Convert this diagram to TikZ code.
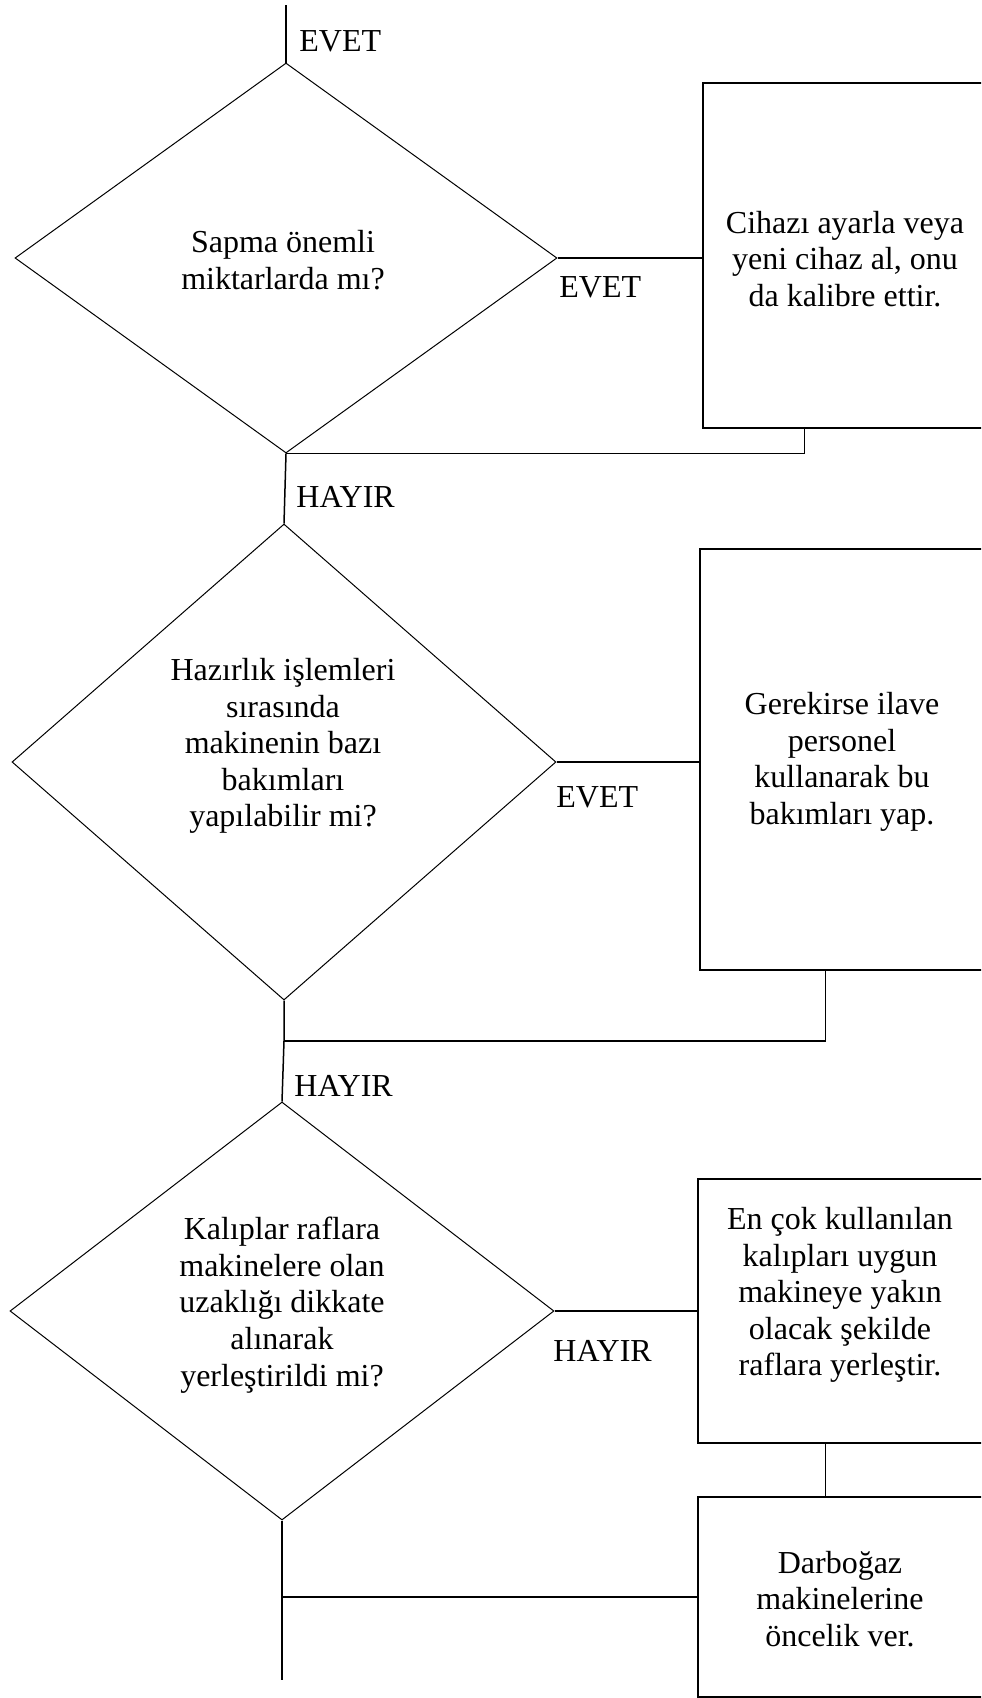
\documentclass[tikz,border=0pt]{standalone}
\usepackage{fontspec}
\setmainfont{Liberation Serif}
\usetikzlibrary{shapes.geometric,calc}
\begin{document}
\begin{tikzpicture}[x=0.5pt,y=-0.5pt,
  decision/.style={draw, diamond, line width=0.5pt, inner sep=0pt},
  stepbox/.style={draw, rectangle, line width=0.75pt, inner sep=0pt},
  txt/.style={align=center, font=\fontsize{16}{18.3}\selectfont, inner sep=0pt},
  lbl/.style={anchor=west, font=\fontsize{16}{18.3}\selectfont, inner sep=0pt},
  link/.style={line width=0.75pt}]

\useasboundingbox (0,0) rectangle (981,1698);
\clip (0,0) rectangle (981,1698);

% decisions
\node[decision, minimum width=271pt, minimum height=195pt] (d1) at (286,258) {};
\node[decision, minimum width=272pt, minimum height=238pt] (d2) at (284,762) {};
\node[decision, minimum width=272pt, minimum height=209pt] (d3) at (282,1311) {};

\node[txt] (d1t) at (283,260) {Sapma önemli\\miktarlarda mı?};
\node[txt] (d2t) at (283,746) {Hazırlık işlemleri\\sırasında\\makinenin bazı\\bakımları\\yapılabilir mi?};
\node[txt] (d3t) at (282,1305) {Kalıplar raflara\\makinelere olan\\uzaklığı dikkate\\alınarak\\yerleştirildi mi?};

% actions (their right sides run off the page)
\node[stepbox, minimum width=142.5pt, minimum height=172.5pt] (b1) at (845.5,255.5) {};
\node[stepbox, minimum width=142.5pt, minimum height=210.5pt] (b2) at (842.5,759.5) {};
\node[stepbox, minimum width=142.5pt, minimum height=132pt] (b3) at (840.5,1311) {};
\node[stepbox, minimum width=142.5pt, minimum height=100pt] (b4) at (840.5,1597) {};

\node[txt] (b1t) at (845,259) {Cihazı ayarla veya\\yeni cihaz al, onu\\da kalibre ettir.};
\node[txt] (b2t) at (842,762) {Gerekirse ilave\\personel\\kullanarak bu\\bakımları yap.};
\node[txt] (b3t) at (840,1295) {En çok kullanılan\\kalıpları uygun\\makineye yakın\\olacak şekilde\\raflara yerleştir.};
\node[txt] (b4t) at (840,1599) {Darboğaz\\makinelerine\\öncelik ver.};

% connectors
\coordinate (top) at (286,5);
\coordinate (j2) at (284,1041);
\coordinate (end) at (282,1680);

\draw[link] (top) -- (d1.north);
\draw[link] (d1.east) -- (d1.east -| b1.west);
\draw[link] ($(b1.south west)+(102,0)$) |- (d1.south);
\draw[link] (d1.south) -- (d2.north);
\draw[link] (d2.east) -- (d2.east -| b2.west);
\draw[link] ($(b2.south west)+(126,0)$) |- (j2);
\draw[link] (d2.south) -- (j2) -- (d3.north);
\draw[link] (d3.east) -- (d3.east -| b3.west);
\draw[link] ($(b3.south west)+(128,0)$) -- ($(b4.north west)+(128,0)$);
\draw[link] (b4.west) -- (b4.west -| d3.south);
\draw[link] (d3.south) -- (end);

% branch labels
\node[lbl] (l1) at (299,41) {EVET};
\node[lbl] (l2) at (559,287) {EVET};
\node[lbl] (l3) at (296,497) {HAYIR};
\node[lbl] (l4) at (556,797) {EVET};
\node[lbl] (l5) at (294,1086) {HAYIR};
\node[lbl] (l6) at (553,1351) {HAYIR};
\end{tikzpicture}
\end{document}
